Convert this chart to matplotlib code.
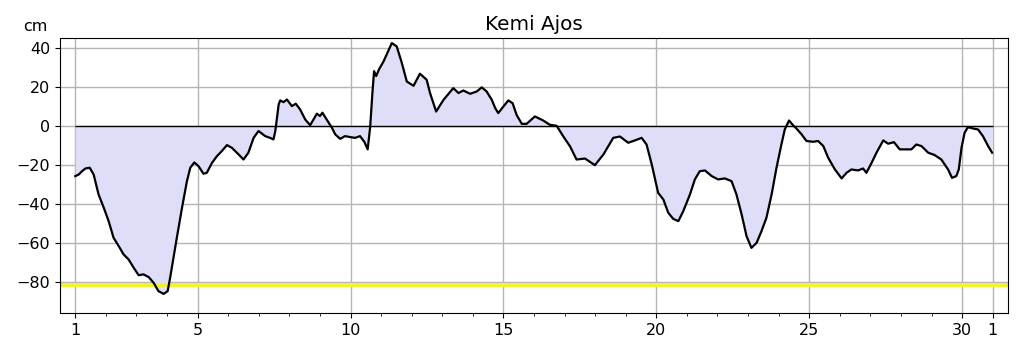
import numpy as np
import matplotlib
matplotlib.use("Agg")
import matplotlib.pyplot as plt

# sea level, days since the 1st of the month, cm
day_offset = [
    0.00, 0.11, 0.22, 0.33, 0.47, 0.60, 0.76, 0.93, 1.09, 1.25, 1.42, 1.58, 1.74, 1.91,
    2.07, 2.23, 2.40, 2.56, 2.72, 2.89, 3.02, 3.10, 3.21, 3.32, 3.49, 3.65, 3.76, 3.89,
    4.03, 4.19, 4.30, 4.47, 4.63, 4.79, 4.96, 5.12, 5.34, 5.50, 5.66, 5.83, 5.99, 6.21,
    6.37, 6.48, 6.54, 6.65, 6.70, 6.81, 6.92, 7.08, 7.21, 7.35, 7.52, 7.68, 7.79, 7.90,
    8.00, 8.08, 8.22, 8.39, 8.50, 8.66, 8.82, 8.99, 9.15, 9.31, 9.45, 9.56, 9.64, 9.72,
    9.77, 9.84, 9.93, 10.08, 10.35, 10.51, 10.68, 10.84, 11.06, 11.27, 11.49, 11.60,
    11.80, 12.04, 12.36, 12.53, 12.69, 12.91, 13.13, 13.29, 13.45, 13.62, 13.73, 13.83,
    14.00, 14.16, 14.30, 14.43, 14.60, 14.76, 15.03, 15.30, 15.52, 15.74, 15.96, 16.18,
    16.39, 16.67, 16.99, 17.27, 17.59, 17.81, 18.08, 18.30, 18.52, 18.68, 18.85, 19.06,
    19.23, 19.39, 19.55, 19.72, 19.88, 20.10, 20.26, 20.42, 20.59, 20.81, 21.02, 21.24,
    21.46, 21.62, 21.79, 21.95, 22.11, 22.28, 22.44, 22.60, 22.77, 22.93, 23.09, 23.20,
    23.34, 23.47, 23.58, 23.75, 23.91, 24.13, 24.29, 24.46, 24.62, 24.84, 25.06, 25.22,
    25.38, 25.60, 25.76, 25.87, 26.04, 26.20, 26.42, 26.58, 26.77, 26.96, 27.18, 27.34,
    27.50, 27.67, 27.89, 28.10, 28.32, 28.54, 28.67, 28.81, 28.89, 28.98, 29.08, 29.19,
    29.36, 29.52, 29.68, 29.85, 29.98,
]
level_cm = [
    -25.8, -25.0, -23.3, -21.9, -21.5, -25.0, -35.2, -42.0, -48.9, -57.4, -61.7, -66.0, -68.5, -72.8,
    -76.6, -76.2, -77.6, -80.5, -84.8, -86.2, -84.8, -78.0, -67.7, -57.4, -42.0, -28.4, -21.5, -18.8,
    -20.7, -24.6, -24.1, -19.0, -15.6, -13.0, -9.9, -11.3, -14.7, -17.3, -13.8, -6.2, -2.7, -5.3,
    -6.2, -7.0, -2.7, 10.9, 13.0, 12.1, 13.5, 10.1, 11.3, 8.4, 3.2, 0.3, 3.2, 6.2,
    5.0, 6.7, 3.2, -1.0, -4.4, -6.7, -5.3, -5.8, -6.2, -5.3, -8.2, -12.1, -1.0, 17.8,
    28.0, 25.5, 28.9, 33.0, 42.4, 40.7, 32.1, 22.7, 20.5, 26.7, 23.6, 16.8,
    7.3, 13.3, 19.3, 16.8, 18.1, 16.4, 17.6, 19.7, 17.6, 13.3, 9.1, 6.5,
    9.9, 13.0, 11.6, 5.6, 1.0, 1.0, 4.8, 2.7, 0.5, 0.0, -5.5, -10.6,
    -17.3, -16.8, -20.2, -14.7, -6.2, -5.5, -8.7, -7.5, -6.2, -9.6, -19.8, -34.4,
    -37.8, -44.6, -47.7, -48.9, -43.8, -35.2, -27.5, -23.3, -22.9, -25.8, -27.5, -27.0,
    -28.4, -35.2, -45.5, -56.6, -62.6, -60.0, -54.0, -47.2, -35.2, -21.5, -9.6, -1.9,
    2.7, 0.3, -1.4, -4.4, -7.8, -8.2, -7.8, -10.4, -16.4, -22.4, -27.0, -24.1,
    -22.4, -22.9, -21.9, -24.1, -19.0, -13.8, -7.5, -9.2, -8.4, -12.1, -12.1, -12.1,
    -9.6, -10.4, -13.8, -15.0, -17.3, -22.4, -26.7, -25.8, -22.4, -11.3, -3.6, -0.7,
    -1.4, -1.9, -5.3, -10.4, -13.8,
]
tick_days = [1, 5, 10, 15, 20, 25, 30, 31]
tick_labels = ["1", "5", "10", "15", "20", "25", "30", "1"]
y_ticks = [-80, -60, -40, -20, 0, 20, 40]
limit_level = -81.5

days = 1 + np.array(day_offset)
level = np.array(level_cm)

fig = plt.figure(figsize=(10.19, 3.52), dpi=100)
ax = fig.add_axes([0.0589, 0.1108, 0.9303, 0.7812])

ax.fill_between(days, level, 0, color="#dedef8", lw=0)
ax.hlines(0, days[0], tick_days[-1], color="black", lw=1.0, zorder=3)
ax.axhline(limit_level, color="#f2f230", lw=3.0, zorder=2)
ax.plot(days, level, color="black", lw=1.6, zorder=4)

ax.set_xlim(0.5, 31.5)
ax.set_ylim(-96, 45)
ax.set_xticks(tick_days)
ax.set_xticklabels(tick_labels)
ax.set_xticks(np.arange(1, 32), minor=True)
ax.set_yticks(y_ticks)
ax.tick_params(labelsize=11.5)
ax.tick_params(which="minor", length=2)
ax.grid(True, which="major", color="#b4b4b4", lw=1.0)
ax.set_axisbelow(True)

ax.set_title("Kemi Ajos", fontsize=14.4, pad=6)
ax.text(-0.026, 1.015, "cm", transform=ax.transAxes, ha="center", va="bottom", fontsize=11.5)

fig.savefig("out.png", dpi=100)
